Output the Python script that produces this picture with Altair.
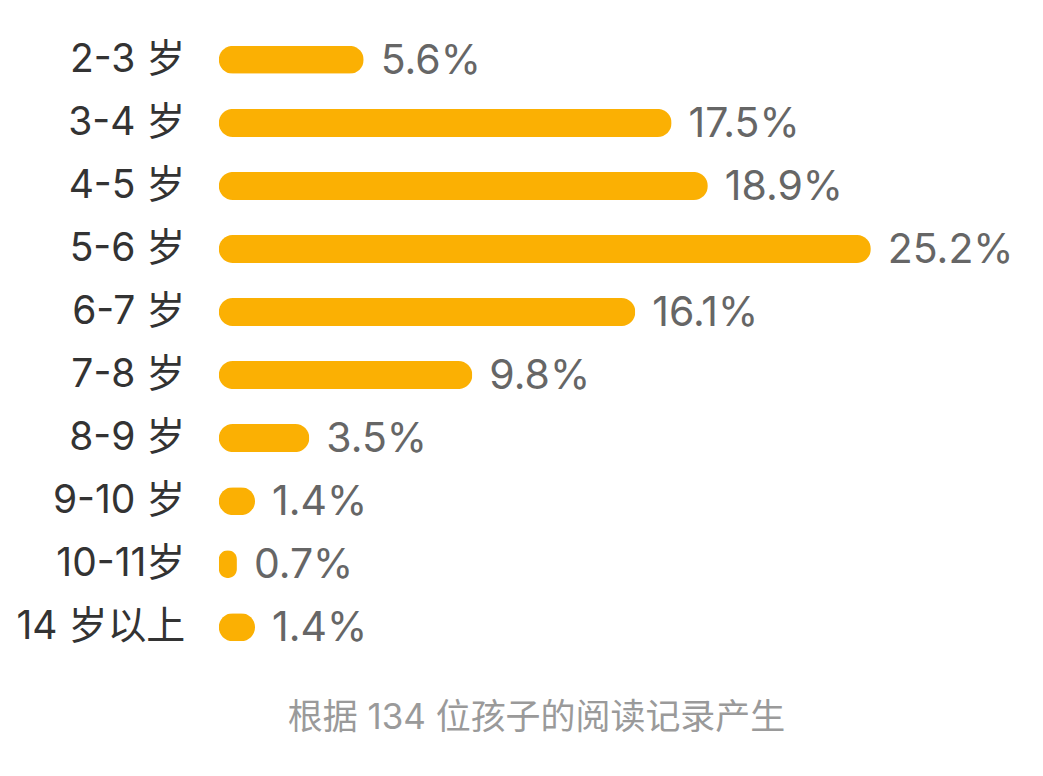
import altair as alt
import pandas as pd

categories = ["2-3 岁", "3-4 岁", "4-5 岁", "5-6 岁", "6-7 岁", "7-8 岁", "8-9 岁", "9-10 岁", "10-11岁", "14 岁以上"]
values = [5.6, 17.5, 18.9, 25.2, 16.1, 9.8, 3.5, 1.4, 0.7, 1.4]
labels = ["5.6%", "17.5%", "18.9%", "25.2%", "16.1%", "9.8%", "3.5%", "1.4%", "0.7%", "1.4%"]
footer = "根据 134 位孩子的阅读记录产生"

df = pd.DataFrame({"cat": categories, "val": values, "lab": labels})

FONT = "Inter, Noto Sans CJK SC"
W, H = 777, 631

y_enc = alt.Y("cat:N", sort=categories, title=None,
              axis=alt.Axis(labelFontSize=39, labelColor="#333333", labelFont=FONT,
                            labelPadding=34, ticks=False, domain=False, grid=False,
                            labelAlign="right"))
x_enc = alt.X("val:Q", scale=alt.Scale(domain=[0, 30], nice=False), axis=None)

base = alt.Chart(df)

bars = base.mark_bar(size=28, cornerRadius=14, color="#FBB003").encode(x=x_enc, y=y_enc)

text = base.mark_text(align="left", baseline="middle", dx=17, dy=2, fontSize=41,
                      color="#666666", font=FONT).encode(x=x_enc, y=y_enc, text="lab:N")

foot = alt.Chart(pd.DataFrame({"t": [footer]})).mark_text(
    align="center", baseline="middle", fontSize=35, color="#9a9a9a", font=FONT
).encode(text="t:N", x=alt.value(318), y=alt.value(690))

chart = alt.layer(bars, text, foot).properties(
    width=W, height=H,
    background="white",
    autosize=alt.AutoSizeParams(type="none"),
    padding={"left": 211, "top": 20, "right": 40, "bottom": 100},
).configure_view(stroke=None)

chart.save("out.html", embed_options={"renderer": "svg", "actions": False})
